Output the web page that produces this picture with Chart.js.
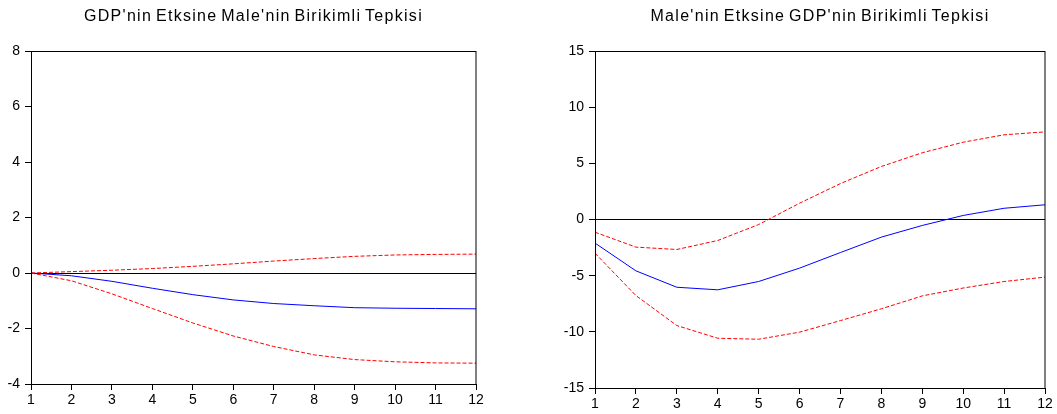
<!DOCTYPE html>
<html>
<head>
<meta charset="utf-8">
<script src="https://cdn.jsdelivr.net/npm/chart.js@4.4.1/dist/chart.umd.min.js"></script>
<style>
  html, body { margin: 0; padding: 0; background: #fff; }
  body { width: 1057px; height: 414px; position: relative; overflow: hidden; }
  .box { position: absolute; top: 0; }
</style>
</head>
<body>
<div class="box" style="left:0px;"><canvas id="c1" width="500" height="414"></canvas></div>
<div class="box" style="left:564px;"><canvas id="c2" width="493" height="414"></canvas></div>
<script>
// ---- data ----
const periods = ['1','2','3','4','5','6','7','8','9','10','11','12'];

const leftTitle = "GDP'nin Etksine Male'nin Birikimli Tepkisi";
const leftResponse = [0, -0.10, -0.30, -0.55, -0.78, -0.97, -1.10, -1.18, -1.25, -1.27, -1.28, -1.29];
const leftUpper    = [0, 0.05, 0.10, 0.16, 0.24, 0.33, 0.43, 0.52, 0.60, 0.65, 0.67, 0.68];
const leftLower    = [0, -0.28, -0.75, -1.28, -1.80, -2.27, -2.65, -2.95, -3.12, -3.20, -3.24, -3.25];
const leftYTicks   = [-4, -2, 0, 2, 4, 6, 8];

const rightTitle = "Male'nin Etksine GDP'nin Birikimli Tepkisi";
const rightResponse = [-2.10, -4.57, -6.03, -6.26, -5.52, -4.33, -2.94, -1.57, -0.53, 0.36, 1.00, 1.31];
const rightUpper    = [-1.13, -2.46, -2.67, -1.87, -0.45, 1.45, 3.20, 4.72, 5.94, 6.88, 7.54, 7.80];
const rightLower    = [-3.00, -6.77, -9.44, -10.57, -10.66, -10.03, -9.00, -7.95, -6.80, -6.10, -5.52, -5.13];
const rightYTicks   = [-15, -10, -5, 0, 5, 10, 15];

// ---- drawing ----
const FONT = "'Liberation Sans', Arial, sans-serif";

const framePlugin = {
  id: 'frame',
  afterDraw(chart, args, opts) {
    const {ctx, chartArea: a} = chart;
    ctx.save();
    ctx.strokeStyle = '#000';
    ctx.lineWidth = 1;
    ctx.strokeRect(Math.round(a.left) + 0.5, Math.round(a.top) + 0.5,
                   Math.round(a.right - a.left) - 0.5, Math.round(a.bottom - a.top));
    ctx.fillStyle = '#000';
    ctx.font = '16px ' + FONT;
    ctx.textAlign = 'center';
    ctx.textBaseline = 'alphabetic';
    if ('letterSpacing' in ctx) ctx.letterSpacing = '1.3px';
    if ('wordSpacing' in ctx) ctx.wordSpacing = '-2px';
    ctx.fillText(opts.text, (a.left + a.right) / 2, opts.y);
    ctx.restore();
  }
};

function makeChart(id, title, resp, up, lo, yTicks, pad, titleY) {
  const datasets = [
    { data: up, borderColor: '#ff0000', borderWidth: 1, borderDash: [4, 2], pointRadius: 0, tension: 0, fill: false },
    { data: lo, borderColor: '#ff0000', borderWidth: 1, borderDash: [4, 2], pointRadius: 0, tension: 0, fill: false },
    { data: resp, borderColor: '#0000ff', borderWidth: 1, pointRadius: 0, tension: 0, fill: false }
  ];
  return new Chart(document.getElementById(id), {
    type: 'line',
    data: { labels: periods, datasets },
    plugins: [framePlugin],
    options: {
      responsive: false,
      animation: false,
      devicePixelRatio: 1,
      layout: { padding: pad },
      plugins: {
        legend: { display: false },
        tooltip: { enabled: false },
        title: { display: false },
        frame: { text: title, y: titleY }
      },
      scales: {
        x: {
          type: 'category',
          offset: false,
          afterFit(s) { s.height = 25; },
          grid: { drawOnChartArea: false, drawTicks: true, tickLength: 6, tickColor: '#000', tickWidth: 1, offset: false },
          border: { display: true, color: '#000', width: 1 },
          ticks: { color: '#000', font: { family: FONT, size: 14 }, padding: 2, maxRotation: 0, autoSkip: false }
        },
        y: {
          type: 'linear',
          min: yTicks[0],
          max: yTicks[yTicks.length - 1],
          afterFit(s) { s.width = 31; },
          afterBuildTicks(s) { s.ticks = yTicks.map(v => ({ value: v })); },
          grid: {
            drawOnChartArea: true,
            drawTicks: true,
            tickLength: 6,
            tickColor: '#000',
            color: ctx => (ctx.tick && ctx.tick.value === 0) ? '#000' : 'rgba(0,0,0,0)',
            lineWidth: 1
          },
          border: { display: true, color: '#000', width: 1 },
          ticks: { color: '#000', font: { family: FONT, size: 14 }, padding: 5 }
        }
      }
    }
  });
}

makeChart('c1', leftTitle, leftResponse, leftUpper, leftLower, leftYTicks,
          { left: 0, right: 24, top: 51, bottom: 5 }, 21);
makeChart('c2', rightTitle, rightResponse, rightUpper, rightLower, rightYTicks,
          { left: 0, right: 12, top: 51, bottom: 1 }, 21);
</script>
</body>
</html>
